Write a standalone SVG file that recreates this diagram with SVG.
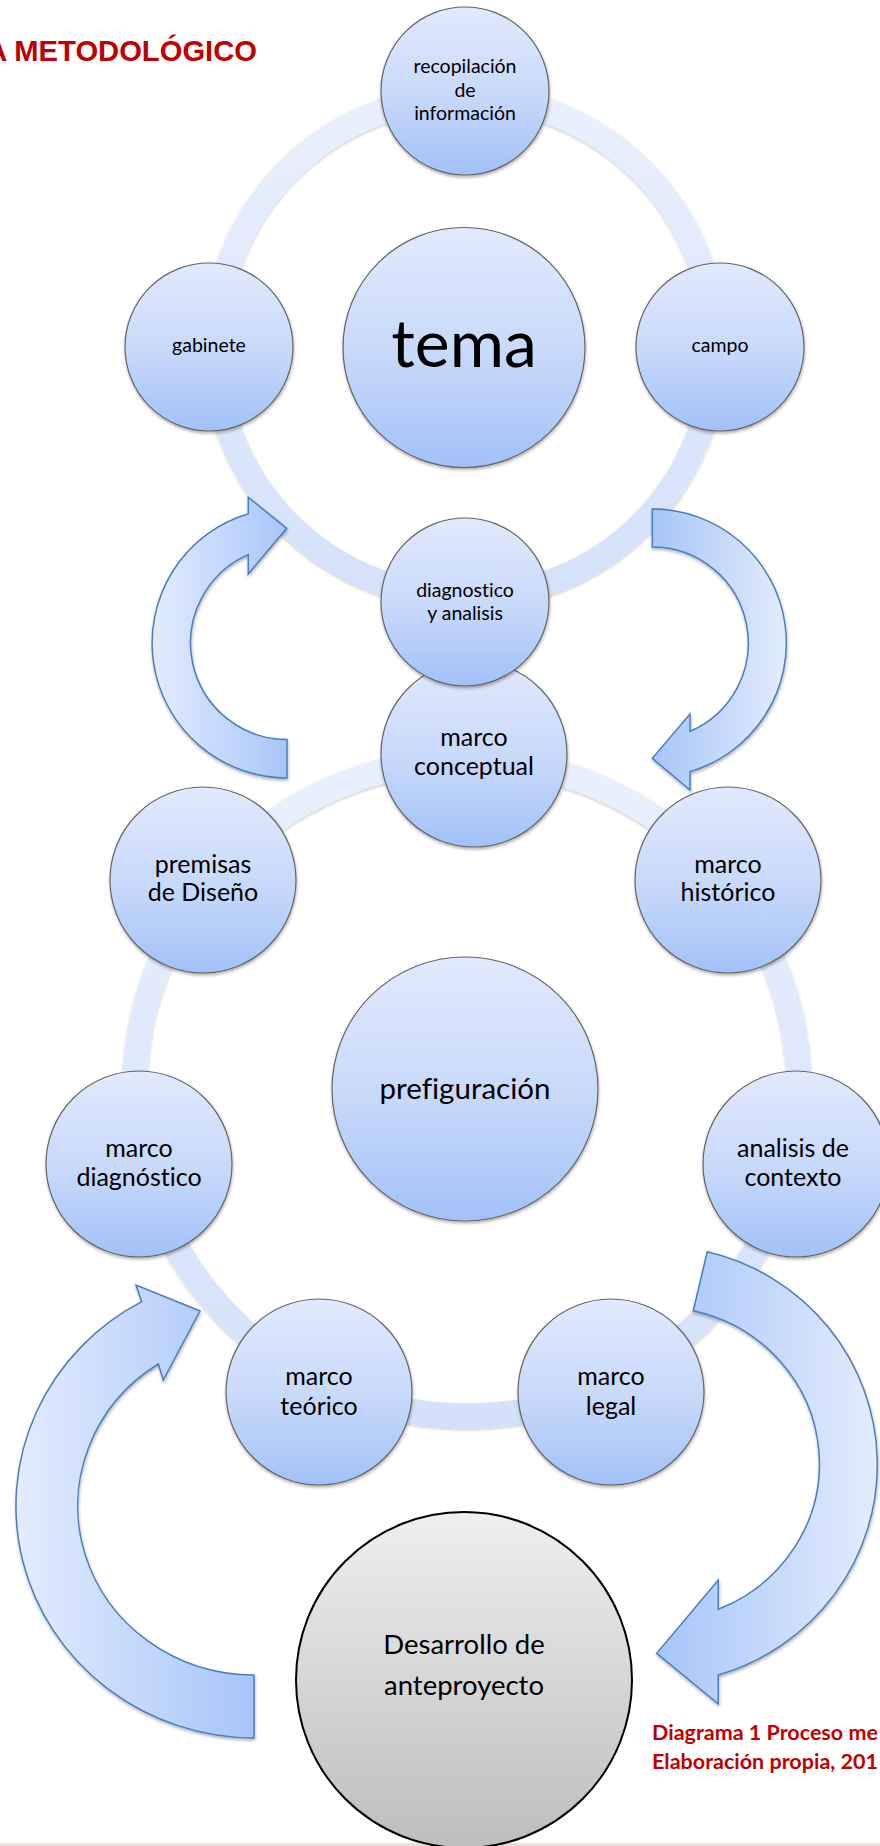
<svg xmlns="http://www.w3.org/2000/svg" width="880" height="1846" viewBox="0 0 880 1846">
<defs>
<linearGradient id="gNode" x1="0" y1="0" x2="0" y2="1">
<stop offset="0" stop-color="#e1eafd"/>
<stop offset="0.55" stop-color="#c6d8fa"/>
<stop offset="1" stop-color="#a2c1f8"/>
</linearGradient>
<linearGradient id="gGray" x1="0" y1="0" x2="0" y2="1">
<stop offset="0" stop-color="#efefef"/>
<stop offset="1" stop-color="#bdbdbd"/>
</linearGradient>
<linearGradient id="gRing1" gradientUnits="userSpaceOnUse" x1="0" y1="97" x2="0" y2="597">
<stop offset="0" stop-color="#e9f0fd"/>
<stop offset="1" stop-color="#d3e1fa"/>
</linearGradient>
<linearGradient id="gRing2" gradientUnits="userSpaceOnUse" x1="0" y1="760" x2="0" y2="1416">
<stop offset="0" stop-color="#e9f0fd"/>
<stop offset="1" stop-color="#d3e1fa"/>
</linearGradient>
<linearGradient id="gArrR" x1="0" y1="0" x2="1" y2="0">
<stop offset="0" stop-color="#e3ecfd"/>
<stop offset="1" stop-color="#a7c5f9"/>
</linearGradient>
<linearGradient id="gArrL" x1="0" y1="0" x2="1" y2="0">
<stop offset="0" stop-color="#a7c5f9"/>
<stop offset="1" stop-color="#e3ecfd"/>
</linearGradient>
<filter id="sh" x="-10%" y="-10%" width="120%" height="125%">
<feDropShadow dx="0.5" dy="2" stdDeviation="1.5" flood-color="#000" flood-opacity="0.3"/>
</filter>
<filter id="shRing" x="-10%" y="-10%" width="120%" height="120%">
<feDropShadow dx="0" dy="1.5" stdDeviation="1.5" flood-color="#000" flood-opacity="0.22"/>
</filter>
</defs>
<style>
.ring{fill:none;stroke-width:25}
.node{fill:url(#gNode);stroke:#656565;stroke-width:1.2}
.arrow{stroke:#4a7ebb;stroke-width:1.5;stroke-linejoin:miter}
.t{font-family:Lato,"Open Sans",sans-serif;fill:#000;text-anchor:middle;font-variant-ligatures:none}
.s{font-size:19.5px}
.m{font-size:25px}
.title{font-family:"Liberation Sans",Arial,sans-serif;font-weight:bold;font-size:29.2px;fill:#c00000;text-anchor:end}
.cap{font-family:Lato,"Open Sans",sans-serif;font-weight:bold;font-size:21.5px;fill:#c00000;font-variant-ligatures:none}
</style>
<rect width="880" height="1846" fill="#ffffff"/>
<rect x="0" y="1843" width="880" height="3" fill="#f0dcdc"/>

<text class="title" x="257" y="61">A METODOLÓGICO</text>

<!-- lower cycle -->
<g id="ring2"><ellipse class="ring" cx="467" cy="1088" rx="332" ry="328" stroke="url(#gRing2)" filter="url(#shRing)"/></g>
<g id="prefiguracion"><ellipse class="node" cx="465" cy="1089" rx="133" ry="132" filter="url(#sh)"/><text class="t" x="465" y="1099" font-size="29.5">prefiguración</text></g>
<g id="marco-conceptual"><circle class="node" cx="474" cy="754" r="93" filter="url(#sh)"/><text class="t m" x="474" y="746">marco</text><text class="t m" x="474" y="775">conceptual</text></g>
<g id="premisas"><circle class="node" cx="203" cy="880" r="93" filter="url(#sh)"/><text class="t m" x="203" y="873">premisas</text><text class="t m" x="203" y="901">de Diseño</text></g>
<g id="marco-historico"><circle class="node" cx="728" cy="880" r="93" filter="url(#sh)"/><text class="t m" x="728" y="873">marco</text><text class="t m" x="728" y="901">histórico</text></g>
<g id="marco-diagnostico"><circle class="node" cx="139" cy="1164" r="93" filter="url(#sh)"/><text class="t m" x="139" y="1157">marco</text><text class="t m" x="139" y="1186">diagnóstico</text></g>
<g id="analisis-contexto"><circle class="node" cx="796" cy="1164" r="93" filter="url(#sh)"/><text class="t m" x="793" y="1157">analisis de</text><text class="t m" x="793" y="1186">contexto</text></g>
<g id="marco-teorico"><circle class="node" cx="319" cy="1392" r="93" filter="url(#sh)"/><text class="t m" x="319" y="1385">marco</text><text class="t m" x="319" y="1415">teórico</text></g>
<g id="marco-legal"><circle class="node" cx="611" cy="1392" r="93" filter="url(#sh)"/><text class="t m" x="611" y="1385">marco</text><text class="t m" x="611" y="1415">legal</text></g>

<!-- upper cycle -->
<g id="ring1"><circle class="ring" cx="465" cy="347" r="250" stroke="url(#gRing1)" filter="url(#shRing)"/></g>
<g id="tema"><ellipse class="node" cx="464" cy="347.5" rx="121" ry="120" filter="url(#sh)"/><text class="t" x="464" y="367" font-size="66">tema</text></g>
<g id="recopilacion"><circle class="node" cx="465" cy="91" r="84" filter="url(#sh)"/><text class="t s" x="465" y="73">recopilación</text><text class="t s" x="465" y="97">de</text><text class="t s" x="465" y="120">información</text></g>
<g id="gabinete"><circle class="node" cx="209" cy="347" r="84" filter="url(#sh)"/><text class="t s" x="209" y="352">gabinete</text></g>
<g id="campo"><circle class="node" cx="720" cy="347" r="84" filter="url(#sh)"/><text class="t s" x="720" y="352">campo</text></g>
<g id="diagnostico"><circle class="node" cx="465" cy="602" r="84" filter="url(#sh)"/><text class="t s" x="465" y="597">diagnostico</text><text class="t s" x="465" y="620">y analisis</text></g>

<!-- connectors: curved block arrows -->
<g id="connectors">
<path class="arrow" fill="url(#gArrR)" filter="url(#sh)" d="M287,778 A135,135 0 0 1 248.3,513.7 L248.3,497.3 L286.7,528.3 L248.3,574 L248.3,554.6 A96.5,96.5 0 0 0 287,739.5 Z"/>
<path class="arrow" fill="url(#gArrL)" filter="url(#sh)" d="M652.3,509 A134,134 0 0 1 690,771.6 L690,790 L652.3,758.3 L690,714 L690,731.3 A96,96 0 0 0 652.3,547 Z"/>
<path class="arrow" fill="url(#gArrR)" filter="url(#sh)" d="M254,1738 A239,232 0 0 1 141.7,1301.7 L136,1285 L200,1311 L163.3,1380 L158.3,1364 A176,169 0 0 0 254,1675 Z"/>
<path class="arrow" fill="url(#gArrL)" filter="url(#sh)" d="M707.3,1251.7 A221,219 0 0 1 718.3,1675 L718.3,1704 L656.7,1653.3 L718.3,1580 L718.3,1609.3 A162,157 0 0 0 693.3,1310.7 Z"/>
</g>

<g id="desarrollo"><ellipse cx="464" cy="1680" rx="168" ry="168" fill="url(#gGray)" stroke="#000" stroke-width="2"/><text class="t" x="464" y="1654" font-size="27.5">Desarrollo de</text><text class="t" x="464" y="1695" font-size="27.5">anteproyecto</text></g>

<text class="cap" x="652" y="1740">Diagrama 1 Proceso me</text>
<text class="cap" x="652" y="1769">Elaboración propia, 201</text>
</svg>
